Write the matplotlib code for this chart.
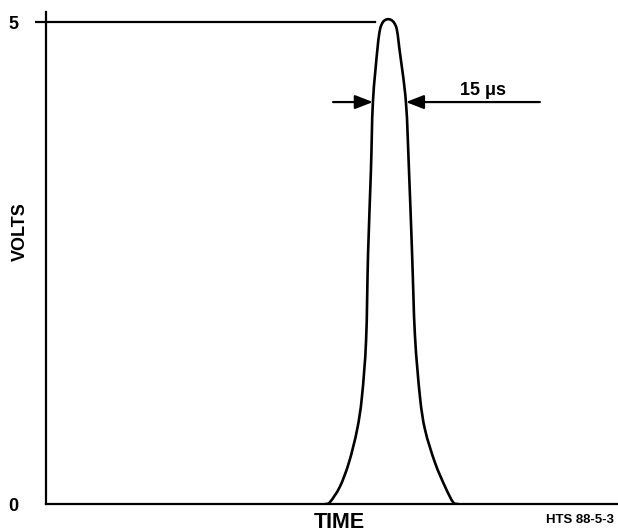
import numpy as np
import matplotlib
matplotlib.use("Agg")
import matplotlib.pyplot as plt
from matplotlib.path import Path
from matplotlib.patches import PathPatch

plt.rcParams['font.family'] = ['Liberation Sans', 'DejaVu Sans']
plt.rcParams['font.weight'] = 'bold'

# pulse: time (us) and voltage (V)
pulse_t = [127.0, 129.1, 133.6, 137.7, 141.4, 143.6, 145.5, 146.4, 147.7, 148.6,
           150.7, 151.8, 152.9, 154.1, 155.6, 157.0, 158.3, 159.5, 160.6, 163.6,
           165.0, 166.4, 167.7, 170.0, 172.3, 176.8, 181.4, 185.0, 187.3]
pulse_v = [0.0, 0.02, 0.18, 0.43, 0.77, 1.11, 1.70, 2.60, 3.46, 4.17,
           4.73, 4.92, 4.99, 5.02, 5.03, 5.02, 4.99, 4.92, 4.73, 4.17,
           3.46, 2.60, 1.75, 1.11, 0.77, 0.43, 0.18, 0.02, 0.0]

peak_level = 5.0
ref_line_end = 149.5          # where the 5 V guide line stops
width_level = 4.17            # height of the width arrows
width_left, width_right = 148.6, 163.6   # 15 us apart
arrow_left_start = 130.5
arrow_right_start = 224.5
width_label = '15 μs'


def smooth_path(xs, ys):
    # bezier segments through the read points (catmull-rom tangents)
    p = np.column_stack([xs, ys])
    p = np.vstack([p[0], p, p[-1]])
    verts = [p[1]]
    codes = [Path.MOVETO]
    for i in range(1, len(p) - 2):
        c1 = p[i] + (p[i + 1] - p[i - 1]) / 6
        c2 = p[i + 1] - (p[i + 2] - p[i]) / 6
        verts += [c1, c2, p[i + 1]]
        codes += [Path.CURVE4] * 3
    return Path(verts, codes)


fig = plt.figure(figsize=(6.18, 5.32), dpi=100)
ax = fig.add_axes([0.0744, 0.0526, 0.9256, 0.9248])

ax.add_patch(PathPatch(smooth_path(pulse_t, pulse_v), facecolor='none',
                       edgecolor='black', lw=1.9, capstyle='round'))
ax.plot([0, ref_line_end], [peak_level, peak_level], color='black', lw=1.6)

arrow = dict(arrowstyle='-|>,head_length=0.9,head_width=0.35', color='black',
             lw=1.6, shrinkA=0, shrinkB=0, mutation_scale=12)
ax.annotate('', xy=(width_left, width_level), xytext=(arrow_left_start, width_level),
            arrowprops=arrow)
ax.annotate('', xy=(width_right, width_level), xytext=(arrow_right_start, width_level),
            arrowprops=arrow)
ax.text(198.6, 4.29, width_label, fontsize=13, fontweight='bold',
        ha='center', va='center')

ax.set_xlim(0, 260)
ax.set_ylim(0, 5.104)

for s in ['top', 'right']:
    ax.spines[s].set_visible(False)
ax.spines['left'].set_linewidth(1.6)
ax.spines['bottom'].set_linewidth(1.6)

ax.set_xticks([])
ax.set_yticks([0, 5])
ax.set_yticklabels(['0', '5'], fontsize=13, fontweight='bold')
ax.tick_params(axis='y', length=8, width=1.6, pad=12)
ax.yaxis.get_major_ticks()[0].tick1line.set_visible(False)

fig.text(20 / 618, 1 - 232 / 532, 'VOLTS', rotation=90, fontsize=13,
         fontweight='bold', ha='center', va='center')
fig.text(339 / 618, 1 - 523 / 532, 'TIME', fontsize=15.5, fontweight='bold',
         ha='center', va='center')
fig.text(580 / 618, 1 - 520 / 532, 'HTS 88-5-3', fontsize=9.5, fontweight='bold',
         ha='center', va='center')

fig.savefig('out.png', dpi=100)
